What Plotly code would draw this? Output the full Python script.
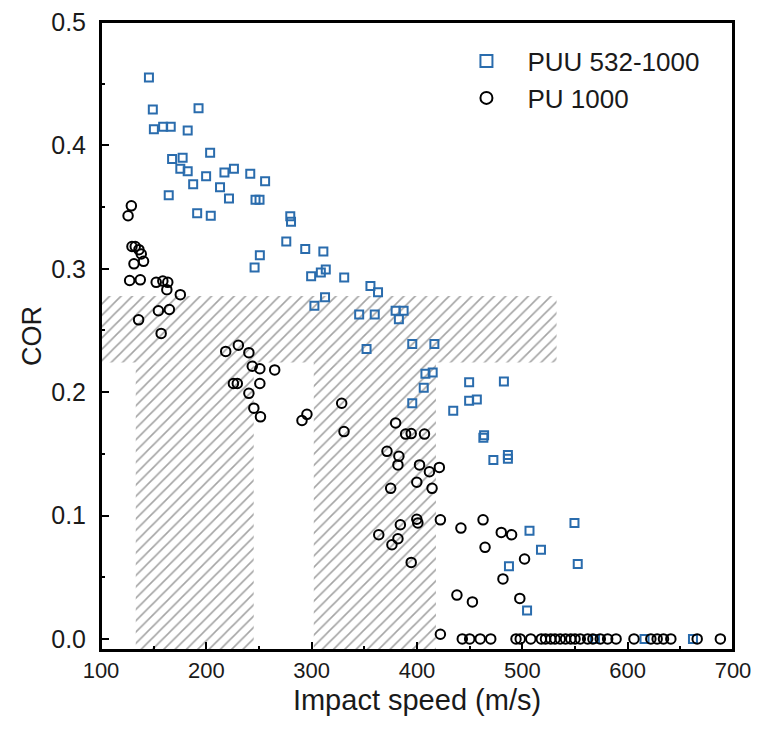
import plotly.graph_objects as go

# ---- data: PUU 532-1000 (blue squares) ----
puu_speed = [145.5, 149.2, 150.2, 159.0, 166.2, 192.6, 182.3, 167.5, 177.5, 203.6,
             175.3, 182.3, 199.8, 217.2, 226.2, 241.7, 255.8, 187.5, 213.0, 221.5,
             246.7, 250.5, 164.3, 191.3, 204.2, 279.7, 280.4, 275.9, 293.9, 311.1,
             250.8, 245.8, 299.5, 308.7, 313.4, 330.9, 302.6, 312.7, 355.8, 363.0,
             345.1, 359.9, 379.7, 387.3, 382.8, 352.1, 395.5, 416.5, 408.0, 414.9,
             406.4, 395.5, 449.5, 482.5, 449.5, 456.8, 434.4, 463.7, 463.0, 472.5,
             486.3, 486.3, 506.8, 517.7, 487.3, 504.5, 549.5, 552.6, 569.0, 616.0,
             662.0]
puu_cor = [0.455, 0.429, 0.413, 0.415, 0.415, 0.430, 0.412, 0.389, 0.390, 0.394,
           0.381, 0.379, 0.375, 0.378, 0.381, 0.377, 0.371, 0.3685, 0.366, 0.357,
           0.356, 0.356, 0.3595, 0.345, 0.343, 0.3425, 0.338, 0.322, 0.316, 0.314,
           0.311, 0.301, 0.294, 0.297, 0.2995, 0.293, 0.270, 0.277, 0.286, 0.281,
           0.263, 0.263, 0.266, 0.266, 0.259, 0.235, 0.239, 0.239, 0.215, 0.216,
           0.2035, 0.191, 0.208, 0.2086, 0.193, 0.194, 0.185, 0.165, 0.163, 0.145,
           0.149, 0.146, 0.0877, 0.0723, 0.0589, 0.023, 0.094, 0.0607, 0.0, 0.0,
           0.0]

# ---- data: PU 1000 (black circles) ----
pu_speed = [128.8, 125.7, 129.4, 132.5, 136.0, 138.2, 131.3, 140.4, 127.2, 137.3,
            152.4, 158.7, 163.4, 162.5, 175.3, 154.5, 164.9, 135.7, 157.1, 218.4,
            230.4, 240.4, 243.6, 250.8, 264.9, 225.7, 229.4, 250.8, 240.4, 245.1,
            251.4, 295.5, 290.8, 328.5, 330.7, 379.7, 389.2, 394.5, 407.1, 371.5,
            382.8, 381.9, 402.4, 411.8, 421.2, 375.0, 399.8, 414.3, 363.7, 384.2,
            399.8, 400.8, 422.2, 381.9, 376.2, 394.5, 441.7, 462.7, 464.6, 480.0,
            489.8, 502.1, 481.6, 497.6, 437.9, 452.6, 422.2,
            443, 450, 460, 470, 494, 498, 508, 518, 522, 527, 531, 536, 541, 546,
            550, 555, 562, 567, 574, 581, 589, 606, 622, 628, 634, 641, 666, 688]
pu_cor = [0.351, 0.343, 0.318, 0.318, 0.3155, 0.312, 0.304, 0.306, 0.2905, 0.291,
          0.289, 0.290, 0.289, 0.283, 0.279, 0.266, 0.267, 0.2586, 0.2476, 0.233,
          0.238, 0.232, 0.221, 0.219, 0.218, 0.207, 0.207, 0.207, 0.199, 0.187,
          0.180, 0.182, 0.177, 0.191, 0.168, 0.175, 0.166, 0.1664, 0.166, 0.152,
          0.148, 0.141, 0.141, 0.1355, 0.139, 0.122, 0.127, 0.122, 0.0844, 0.0925,
          0.097, 0.094, 0.0965, 0.0812, 0.0763, 0.062, 0.0898, 0.0965, 0.0742, 0.0863,
          0.0844, 0.0648, 0.0486, 0.0328, 0.0355, 0.030, 0.0038,
          0, 0, 0, 0, 0, 0, 0, 0, 0, 0, 0, 0, 0, 0,
          0, 0, 0, 0, 0, 0, 0, 0, 0, 0, 0, 0, 0, 0]

# ---- hatched regions (speed / COR bounds) ----
band_speed = [100, 532.5]
band_cor = [0.224, 0.278]
vert_speed_1 = [133, 245]
vert_speed_2 = [302, 418]
vert_cor = [-0.009, 0.224]

x_range = [100, 700]
y_range = [-0.009, 0.5]

BLUE = "#2a6cad"
FONT = "Liberation Sans, Arial, sans-serif"
TXT = "#1a1a1a"

fig = go.Figure()

def hatch(xs, ys):
    x0, x1 = xs
    y0, y1 = ys
    fig.add_trace(go.Scatter(
        x=[x0, x1, x1, x0, x0], y=[y0, y0, y1, y1, y0],
        mode="lines", line=dict(width=0, color="rgba(0,0,0,0)"),
        fill="toself", fillcolor="#4a4a4a",
        fillpattern=dict(shape="/", size=8, solidity=0.2,
                         fgcolor="#4a4a4a", bgcolor="rgba(255,255,255,0)"),
        showlegend=False, hoverinfo="skip"))

hatch(band_speed, band_cor)
hatch(vert_speed_1, vert_cor)
hatch(vert_speed_2, vert_cor)

fig.add_trace(go.Scatter(
    x=puu_speed, y=puu_cor, mode="markers", name="PUU 532-1000",
    marker=dict(symbol="square-open", size=8, color=BLUE,
                line=dict(width=2, color=BLUE))))
fig.add_trace(go.Scatter(
    x=pu_speed, y=pu_cor, mode="markers", name="PU 1000",
    marker=dict(symbol="circle-open", size=9.5, color="black",
                line=dict(width=2, color="black"))))

axis_common = dict(showgrid=False, zeroline=False, showline=True, linecolor="black",
                   linewidth=2, mirror=True, ticks="inside", tickcolor="black",
                   tickwidth=1.5, ticklen=8, automargin=False, ticklabeloverflow="allow")

fig.update_xaxes(range=x_range, dtick=100, tick0=100,
                 tickfont=dict(family=FONT, size=22, color=TXT),
                 minor=dict(dtick=50, ticks="inside", ticklen=4, tickcolor="black", tickwidth=1.5),
                 title=dict(text="Impact speed (m/s)", font=dict(family=FONT, size=29, color=TXT),
                            standoff=7),
                 **axis_common)
fig.update_yaxes(range=y_range, dtick=0.1, tick0=0, tickformat=".1f",
                 tickfont=dict(family=FONT, size=25, color=TXT),
                 ticklabelstandoff=8,
                 minor=dict(dtick=0.05, ticks="inside", ticklen=4, tickcolor="black", tickwidth=1.5),
                 title=dict(text="COR", font=dict(family=FONT, size=27, color=TXT),
                            standoff=2),
                 **axis_common)

# explicit frame around the plot area
fig.add_shape(type="rect", xref="paper", yref="paper", x0=0, x1=1, y0=0, y1=1,
              line=dict(color="black", width=2), fillcolor="rgba(0,0,0,0)", layer="above")

# the page body adds an 8px offset; keep the figure inside the window (no scrollbars)
fig.update_layout(
    width=743, height=728,
    margin=dict(l=93, r=18, t=14, b=86),
    plot_bgcolor="white", paper_bgcolor="white",
    font=dict(family=FONT, color=TXT),
    legend=dict(x=0.545, y=0.975, xanchor="left", yanchor="top",
                bgcolor="rgba(255,255,255,0)", font=dict(family=FONT, size=26, color=TXT),
                itemsizing="constant", itemwidth=72, tracegroupgap=0),
)

fig.write_html("out.html")
